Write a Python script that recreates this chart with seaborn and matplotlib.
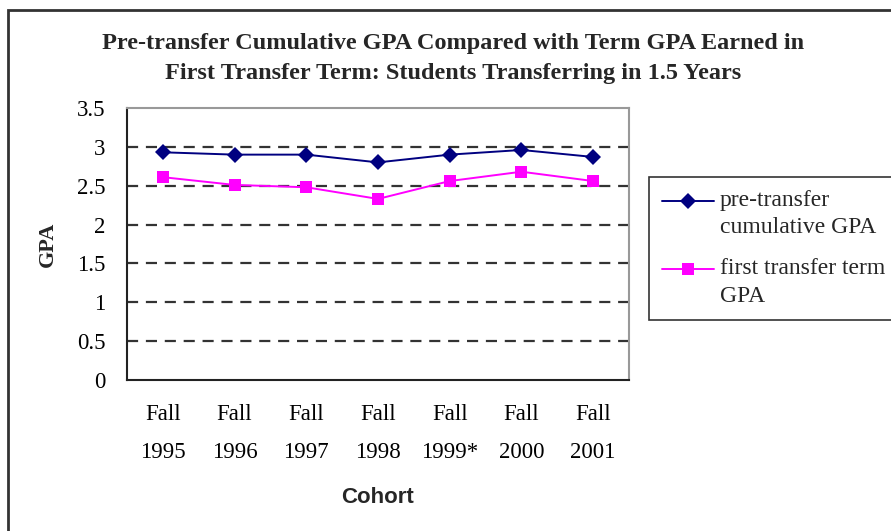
import numpy as np
import pandas as pd
import matplotlib.pyplot as plt
import seaborn as sns
from matplotlib.patches import Rectangle
from matplotlib.legend_handler import HandlerLine2D

# Data
cohorts = ["Fall\n1995", "Fall\n1996", "Fall\n1997", "Fall\n1998",
           "Fall\n1999*", "Fall\n2000", "Fall\n2001"]
pre_transfer = [2.93, 2.90, 2.90, 2.80, 2.90, 2.96, 2.87]
first_term = [2.61, 2.51, 2.48, 2.33, 2.56, 2.68, 2.56]
series_names = ["pre-transfer\ncumulative GPA", "first transfer term\nGPA"]

df = pd.DataFrame({
    "Cohort": cohorts * 2,
    "GPA": pre_transfer + first_term,
    "series": [series_names[0]] * len(cohorts) + [series_names[1]] * len(cohorts),
})
df["x"] = df.groupby("series").cumcount()


class TopAlignedHandler(HandlerLine2D):
    # put the legend line next to the first text line, like Excel does
    def create_artists(self, legend, orig_handle, xdescent, ydescent,
                       width, height, fontsize, trans):
        return super().create_artists(legend, orig_handle, xdescent,
                                      ydescent - 1.1 * fontsize, width, height,
                                      fontsize, trans)


sns.set_style("white")
plt.rcParams["font.family"] = ["Liberation Serif", "DejaVu Serif"]

fig = plt.figure(figsize=(8.91, 5.31), dpi=100)
ax = fig.add_axes([127 / 891, 1 - 380 / 531, 502 / 891, 272 / 531])

sns.lineplot(data=df, x="x", y="GPA", hue="series", style="series",
             palette=["#000080", "#FF00FF"], markers=["D", "s"], dashes=False,
             markersize=8, linewidth=1.4, markeredgewidth=0, ax=ax)

ax.set_xlim(-0.5, len(cohorts) - 0.5)
ax.set_ylim(0, 3.5)
ax.set_yticks(np.arange(0, 3.51, 0.5))
ax.set_yticklabels(["0", "0.5", "1", "1.5", "2", "2.5", "3", "3.5"], fontsize=16.5)
ax.set_xticks(range(len(cohorts)))
ax.set_xticklabels(cohorts, fontsize=16.5, linespacing=2.1)
ax.set_xticks(np.arange(-0.5, len(cohorts), 1), minor=True)
ax.tick_params(axis="x", which="major", length=0, pad=17)
ax.tick_params(axis="x", which="minor", length=6, width=1.2, direction="out", color="black")
ax.tick_params(axis="y", length=11, width=1.2, direction="inout", color="black", pad=10)
ax.tick_params(colors="black")

for y in np.arange(0.5, 3.01, 0.5):
    ax.axhline(y, color="#333333", linestyle=(0, (5, 3.5)), linewidth=1.6, zorder=0)

for side in ["left", "bottom"]:
    ax.spines[side].set_color("#222222")
    ax.spines[side].set_linewidth(1.5)
for side in ["top", "right"]:
    ax.spines[side].set_color("#999999")
    ax.spines[side].set_linewidth(1.5)

ax.set_ylabel("GPA", fontsize=16, fontweight="bold", labelpad=14)
ax.set_xlabel("Cohort", fontsize=16, fontweight="bold", family="Liberation Sans", labelpad=17)

fig.text(0.508, 1 - 43 / 531,
         "Pre-transfer Cumulative GPA Compared with Term GPA Earned in",
         ha="center", va="center", fontsize=17.5, fontweight="bold")
fig.text(0.508, 1 - 74 / 531,
         "First Transfer Term: Students Transferring in 1.5 Years",
         ha="center", va="center", fontsize=17.5, fontweight="bold")

handles, labels = ax.get_legend_handles_labels()
leg = ax.legend(handles, labels, loc="upper left",
                bbox_to_anchor=(649 / 891, 1 - 177 / 531), bbox_transform=fig.transFigure,
                borderaxespad=0, fontsize=17, frameon=True, fancybox=False,
                edgecolor="black", handlelength=2.2, borderpad=0.55,
                labelspacing=0.85, handletextpad=0.25,
                handler_map={h: TopAlignedHandler() for h in handles})
leg.get_frame().set_linewidth(1.2)
for t in leg.get_texts():
    t.set_linespacing(1.4)

# outer chart border (extends past the right and bottom edge)
fig.patches.append(Rectangle((8 / 891, -0.1), 1.2, 1.1 - 10 / 531, transform=fig.transFigure,
                             fill=False, edgecolor="#333333", linewidth=2))

fig.savefig("out.png", dpi=100)
